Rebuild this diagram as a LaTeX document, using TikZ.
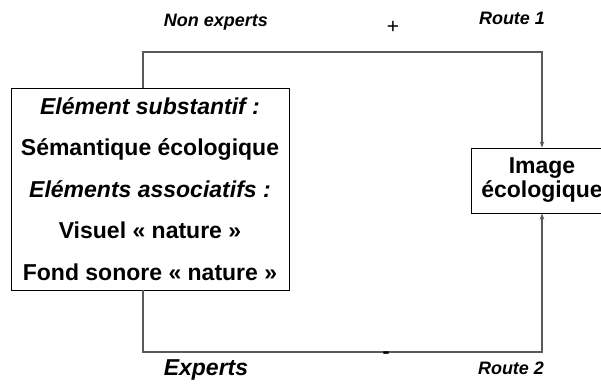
\documentclass[tikz,border=0pt]{standalone}
\usepackage{fontspec}
\setmainfont{Liberation Sans}
\usetikzlibrary{arrows.meta}

\begin{document}
\begin{tikzpicture}[x=1pt,y=-1pt,
    box/.style={draw,line width=0.9pt,align=center,inner sep=0pt,
      font=\bfseries\fontsize{23}{41.5}\selectfont},
    link/.style={draw=black!65,line width=1.1pt},
    lab/.style={font=\bfseries\itshape\fontsize{18}{20}\selectfont}]
  \useasboundingbox (0,0) rectangle (601,385);
  \coordinate (nw) at (143,52);
  \coordinate (ne) at (542,52);
  \coordinate (sw) at (143,352);
  \coordinate (se) at (542,352);
  \node (subst) [box,minimum width=278pt,minimum height=202pt] at (150,189)
    {{\itshape Elément substantif :}\\ Sémantique écologique\\
     {\itshape Eléments associatifs :}\\ Visuel « nature »\\ Fond sonore « nature »};
  \node (image) [box,font=\bfseries\fontsize{23}{24}\selectfont,
    minimum width=142pt,minimum height=65pt] at (542,180.5) {Image\\écologique};
  \draw[link,-{Stealth[length=6pt,width=4.5pt]}] (subst.north -| nw) -- (nw) -- (ne) -- (image.north);
  \draw[link,-{Stealth[length=6pt,width=4.5pt]}] (subst.south -| sw) -- (sw) -- (se) -- (image.south);
  \node[lab] (nonexp) at (216,22) {Non experts};
  \node[font=\fontsize{21}{22}\selectfont] (plus) at (393,27) {+};
  \node[lab] (route1) at (512,18) {Route 1};
  \node[lab,font=\bfseries\itshape\fontsize{23}{24}\selectfont] (exp) at (206,370) {Experts};
  \node[font=\bfseries\fontsize{21}{21}\selectfont] (minus) at (386,355) {-};
  \node[lab] (route2) at (511,368) {Route 2};
\end{tikzpicture}
\end{document}
